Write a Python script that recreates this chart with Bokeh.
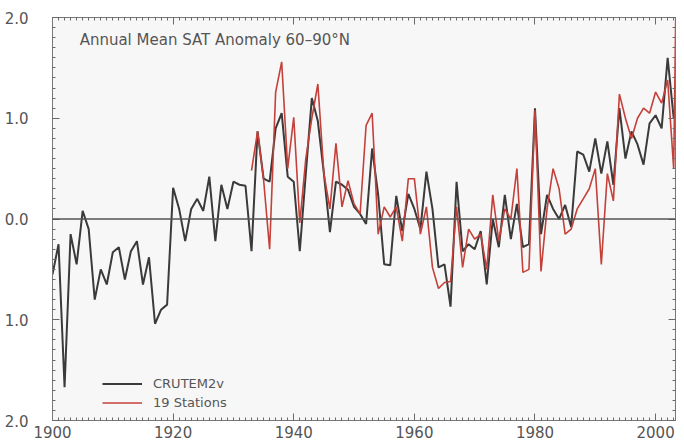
from bokeh.plotting import figure
from bokeh.models import (Range1d, FixedTicker, LinearAxis, Legend, LegendItem,
                          Label, Span, CustomJSTickFormatter)
from bokeh.embed import file_html
from bokeh.resources import INLINE

# ---- data ----
crutem_years = list(range(1900, 2004))
crutem_vals = [
    -0.55, -0.25, -1.67, -0.15, -0.45, 0.08, -0.10, -0.80, -0.50, -0.65,   # 1900s
    -0.33, -0.28, -0.60, -0.32, -0.22, -0.65, -0.38, -1.04, -0.90, -0.85,  # 1910s
    0.31, 0.10, -0.22, 0.10, 0.20, 0.08, 0.42, -0.22, 0.34, 0.10,          # 1920s
    0.37, 0.34, 0.33, -0.32, 0.87, 0.40, 0.37, 0.90, 1.05, 0.42,           # 1930s
    0.37, -0.32, 0.45, 1.20, 0.97, 0.45, -0.13, 0.37, 0.34, 0.29,          # 1940s
    0.12, 0.05, -0.05, 0.70, 0.24, -0.45, -0.46, 0.23, -0.12, 0.25,        # 1950s
    0.10, -0.10, 0.47, 0.10, -0.48, -0.45, -0.87, 0.37, -0.32, -0.25,      # 1960s
    -0.30, -0.12, -0.65, 0.00, -0.28, 0.24, -0.20, 0.15, -0.28, -0.25,     # 1970s
    1.10, -0.15, 0.24, 0.10, 0.00, 0.14, -0.08, 0.67, 0.64, 0.47,          # 1980s
    0.80, 0.45, 0.77, 0.34, 1.10, 0.60, 0.87, 0.74, 0.54, 0.95,            # 1990s
    1.03, 0.90, 1.60, 1.00,                                                # 2000s
]

stations_years = list(range(1933, 2005))
stations_vals = [
    0.48, 0.87, 0.39, -0.30, 1.26, 1.56, 0.50,                             # 1933-39
    1.01, -0.04, 0.60, 1.00, 1.34, 0.45, 0.10, 0.75, 0.12, 0.38,           # 1940s
    0.15, 0.05, 0.93, 1.05, -0.15, 0.12, 0.02, 0.12, -0.22, 0.40,          # 1950s
    0.40, -0.15, 0.12, -0.48, -0.69, -0.63, -0.62, 0.12, -0.48, -0.10,     # 1960s
    -0.20, -0.15, -0.50, 0.24, -0.22, 0.10, 0.00, 0.50, -0.53, -0.50,      # 1970s
    1.08, -0.52, 0.10, 0.50, 0.30, -0.15, -0.10, 0.10, 0.20, 0.30,         # 1980s
    0.50, -0.45, 0.45, 0.18, 1.24, 1.00, 0.80, 1.00, 1.10, 1.05,           # 1990s
    1.26, 1.15, 1.38, 0.50, 5.00,                                          # 2000s (last off-scale)
]

x_major = [1900, 1920, 1940, 1960, 1980, 2000]
x_minor = list(range(1900, 2004))
y_major = [-2.0, -1.0, 0.0, 1.0, 2.0]
y_minor = [round(-2.0 + 0.1 * i, 1) for i in range(41)]

title_text = "Annual Mean SAT Anomaly 60\u201390\u00b0N"
series_names = ["CRUTEM2v", "19 Stations"]

FONT = "DejaVu Sans"
TXT = "#555555"
TICK = "#6a6a6a"

p = figure(width=684, height=446, output_backend="svg", toolbar_location=None,
           x_range=Range1d(1900, 2003.3), y_range=Range1d(-2.0, 2.0),
           min_border_left=52, min_border_right=9, min_border_top=17,
           min_border_bottom=26)

p.background_fill_color = "#f8f7f7"
p.border_fill_color = "#ffffff"
p.outline_line_color = "#777777"
p.outline_line_width = 1
p.grid.visible = False

xt = FixedTicker(ticks=x_major, minor_ticks=x_minor)
yt = FixedTicker(ticks=y_major, minor_ticks=y_minor)
yfmt = CustomJSTickFormatter(code="return Math.abs(tick).toFixed(1);")
blank = CustomJSTickFormatter(code="return '';")


def style_axis(ax, show_labels):
    ax.axis_line_color = "#777777"
    ax.major_tick_in = 7
    ax.major_tick_out = 0
    ax.minor_tick_in = 3
    ax.minor_tick_out = 0
    ax.major_tick_line_color = TICK
    ax.minor_tick_line_color = TICK
    if show_labels:
        ax.major_label_text_font = FONT
        ax.major_label_text_font_size = "15px"
        ax.major_label_text_color = TXT
    else:
        ax.formatter = blank
        ax.major_label_standoff = 0
        ax.major_label_text_font_size = "8px"


xa = p.xaxis[0]
xa.ticker = xt
style_axis(xa, True)
xa.major_label_standoff = 5

ya = p.yaxis[0]
ya.ticker = yt
ya.formatter = yfmt
style_axis(ya, True)
ya.major_label_standoff = 24

top = LinearAxis(ticker=xt)
style_axis(top, False)
p.add_layout(top, "above")
right = LinearAxis(ticker=yt)
style_axis(right, False)
p.add_layout(right, "right")

p.add_layout(Span(location=0, dimension="width", line_color="#555555",
                  line_width=1.5))

r1 = p.line(crutem_years, crutem_vals, line_color="#3a3a3a", line_width=2)
r2 = p.line(stations_years, stations_vals, line_color="#c4403a", line_width=1.6)

legend = Legend(items=[LegendItem(label=series_names[0], renderers=[r1]),
                       LegendItem(label=series_names[1], renderers=[r2])],
                location=(50, 8), glyph_width=40, glyph_height=19,
                label_height=19, spacing=0, padding=0, margin=0,
                label_standoff=11, border_line_color=None,
                background_fill_alpha=0, label_text_font=FONT,
                label_text_font_size="13px", label_text_color=TXT)
p.add_layout(legend)

p.add_layout(Label(x=1904.5, y=1.78, text=title_text, text_font=FONT,
                   text_font_size="15px", text_color=TXT,
                   text_baseline="middle", text_align="left"))

open("out.html", "w").write(file_html(p, INLINE))
